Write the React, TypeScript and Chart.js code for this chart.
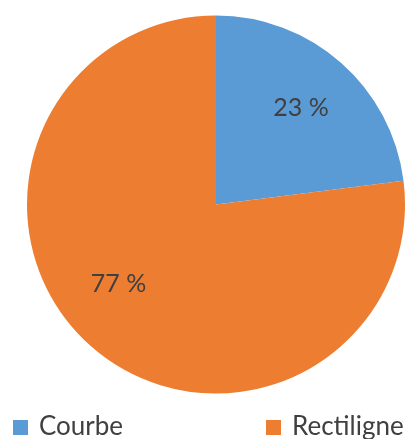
import React, { useEffect, useRef } from "react";
import { Chart, registerables } from "chart.js";

Chart.register(...registerables);

const categories = ["Courbe", "Rectiligne"];
const values = [23, 77];
const valueLabels = ["23 %", "77 %"];
const colors = ["#5B9BD5", "#ED7D31"];

const FONT = "Lato, 'Open Sans', sans-serif";
const TEXT_COLOR = "#404040";
// label placement tweaks (angle shift in degrees, radius fraction) mimicking Excel's best-fit
const LABEL_ANGLE_SHIFT = [0, 9.5];
const LABEL_RADIUS = [0.68, 0.665];

const labelPlugin = {
  id: "sliceLabels",
  afterDatasetsDraw(chart: any) {
    const ctx = chart.ctx;
    const meta = chart.getDatasetMeta(0);
    ctx.save();
    ctx.fillStyle = TEXT_COLOR;
    ctx.font = `25px ${FONT}`;
    ctx.textAlign = "center";
    ctx.textBaseline = "middle";
    meta.data.forEach((arc: any, i: number) => {
      const { x, y, startAngle, endAngle, outerRadius } = arc.getProps(
        ["x", "y", "startAngle", "endAngle", "outerRadius"],
        true
      );
      const mid = (startAngle + endAngle) / 2 + (LABEL_ANGLE_SHIFT[i] * Math.PI) / 180;
      const r = outerRadius * LABEL_RADIUS[i];
      ctx.fillText(valueLabels[i], x + Math.cos(mid) * r, y + Math.sin(mid) * r);
    });
    ctx.restore();
  },
};

const legendPlugin = {
  id: "customLegend",
  afterDraw(chart: any) {
    const ctx = chart.ctx;
    const positions = [13, 266];
    ctx.save();
    ctx.font = `26px ${FONT}`;
    ctx.textBaseline = "middle";
    ctx.textAlign = "left";
    categories.forEach((c, i) => {
      const x = positions[i];
      ctx.fillStyle = colors[i];
      ctx.fillRect(x, 420, 15, 15);
      ctx.fillStyle = TEXT_COLOR;
      ctx.fillText(c, x + 26, 427);
    });
    ctx.restore();
  },
};

export default function App() {
  const ref = useRef<HTMLCanvasElement | null>(null);
  useEffect(() => {
    if (!ref.current) return;
    const chart = new Chart(ref.current, {
      type: "pie",
      data: {
        labels: categories,
        datasets: [
          {
            data: values,
            backgroundColor: colors,
            borderWidth: 0,
          },
        ],
      },
      options: {
        responsive: false,
        animation: false,
        layout: { padding: { left: 27, right: 10, top: 15, bottom: 45 } },
        plugins: {
          legend: { display: false },
          tooltip: { enabled: false },
          title: { display: false },
        },
      },
      plugins: [labelPlugin, legendPlugin],
    });
    return () => chart.destroy();
  }, []);
  return (
    <div style={{ position: "fixed", left: 0, top: 0, width: 415, height: 439, background: "#fff" }}>
      <canvas ref={ref} width={415} height={439} style={{ width: 415, height: 439 }} />
    </div>
  );
}
